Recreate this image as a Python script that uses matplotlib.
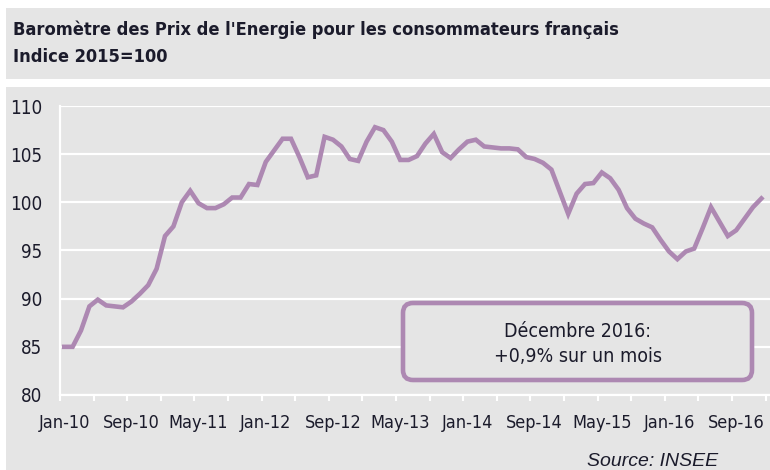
import matplotlib
matplotlib.use("Agg")
import matplotlib.pyplot as plt
from matplotlib.patches import Rectangle, FancyBboxPatch
import numpy as np

# ---- data ----
months = ["Jan", "Feb", "Mar", "Apr", "May", "Jun", "Jul", "Aug", "Sep", "Oct", "Nov", "Dec"]
years = ["10", "11", "12", "13", "14", "15", "16"]
categories = [f"{m}-{y}" for y in years for m in months]

values = [
    85.0, 85.0, 86.7, 89.2, 89.9, 89.3, 89.2, 89.1, 89.7, 90.5, 91.4, 93.1,      # 2010
    96.5, 97.5, 100.0, 101.2, 99.9, 99.4, 99.4, 99.8, 100.5, 100.5, 101.9, 101.8,  # 2011
    104.2, 105.4, 106.6, 106.6, 104.7, 102.6, 102.8, 106.8, 106.5, 105.8, 104.5, 104.3,  # 2012
    106.3, 107.8, 107.5, 106.3, 104.4, 104.4, 104.8, 106.1, 107.1, 105.2, 104.6, 105.5,  # 2013
    106.3, 106.5, 105.8, 105.7, 105.6, 105.6, 105.5, 104.7, 104.5, 104.1, 103.4, 101.1,  # 2014
    98.8, 100.9, 101.9, 102.0, 103.1, 102.5, 101.3, 99.4, 98.3, 97.8, 97.4, 96.1,      # 2015
    94.9, 94.1, 94.9, 95.2, 97.3, 99.5, 98.0, 96.5, 97.1, 98.3, 99.5, 100.4,          # 2016
]

yticks = [80, 85, 90, 95, 100, 105, 110]
title_lines = ["Baromètre des Prix de l'Energie pour les consommateurs français",
               "Indice 2015=100"]
annotation = "Décembre 2016:\n+0,9% sur un mois"
source = "Source: INSEE"

# ---- style ----
W, H = 770, 470
GREY = "#e5e5e5"
PURPLE = "#ad88b2"
TXT = "#1b1b2b"

fig = plt.figure(figsize=(W / 100, H / 100), dpi=100, facecolor="white")

def fx(px):
    return px / W

def fy(py):
    return 1 - py / H

# background panels
fig.patches.append(Rectangle((fx(6), fy(79)), fx(764), 71 / H, transform=fig.transFigure,
                             facecolor=GREY, edgecolor="none", zorder=-10))
fig.patches.append(Rectangle((fx(6), fy(470)), fx(764), 383 / H, transform=fig.transFigure,
                             facecolor=GREY, edgecolor="none", zorder=-10))

tfont = dict(family="DejaVu Sans", fontstretch="condensed", fontweight="bold", color=TXT)
fig.text(fx(13), fy(30), title_lines[0], fontsize=13.1, va="center", ha="left", **tfont)
fig.text(fx(13), fy(57), title_lines[1], fontsize=13.1, va="center", ha="left", **tfont)

# axes
n = len(values)
left, right, top, bottom = 60, 770, 106, 395
px_per_cat = 8.4
ax = fig.add_axes([fx(left), fy(bottom), fx(right - left), (bottom - top) / H])
ax.set_facecolor(GREY)
x = np.arange(n)
ax.plot(x, values, color=PURPLE, lw=3.3, solid_joinstyle="miter", zorder=3)

ax.set_ylim(80, 110)
ax.set_xlim(-0.5, -0.5 + (right - left) / px_per_cat)
ax.set_yticks(yticks)
ax.set_yticklabels([str(v) for v in yticks])
ax.grid(axis="y", color="white", lw=1.6, zorder=1)
ax.set_axisbelow(True)

ax.set_xticks(x[::8])
ax.set_xticklabels(categories[::8])
ax.set_xticks(np.arange(-0.5, n, 4), minor=True)
ax.tick_params(axis="x", which="major", length=0, pad=14)
ax.tick_params(axis="x", which="minor", length=4, width=1.5, color="white", direction="out")
ax.tick_params(axis="y", length=0, pad=13)

for s in ["top", "right"]:
    ax.spines[s].set_visible(False)
for s in ["left", "bottom"]:
    ax.spines[s].set_color("white")
    ax.spines[s].set_linewidth(1.6)

for lab in ax.get_xticklabels() + ax.get_yticklabels():
    lab.set_fontsize(13)
    lab.set_fontfamily("DejaVu Sans")
    lab.set_fontstretch("condensed")
    lab.set_color(TXT)
for lab in ax.get_yticklabels():
    lab.set_fontsize(13.5)

# annotation box (drawn in inch units so the corners are round)
bx0, by0, bx1, by1 = 403, 303, 752, 380
box = FancyBboxPatch((bx0 / 100, (H - by1) / 100), (bx1 - bx0) / 100, (by1 - by0) / 100,
                     boxstyle="round,pad=0,rounding_size=0.1",
                     transform=fig.dpi_scale_trans, facecolor=GREY, edgecolor=PURPLE,
                     lw=3.3, zorder=5)
fig.patches.append(box)
fig.text(fx((bx0 + bx1) / 2), fy(344), annotation, ha="center", va="center",
         fontsize=14, linespacing=1.45, zorder=6, family="DejaVu Sans",
         fontstretch="condensed", color=TXT)

fig.text(fx(587), fy(470), source, ha="left", va="bottom", fontsize=14,
         family="Liberation Sans", style="italic", color=TXT)

fig.savefig("out.png", dpi=100, facecolor="white")
